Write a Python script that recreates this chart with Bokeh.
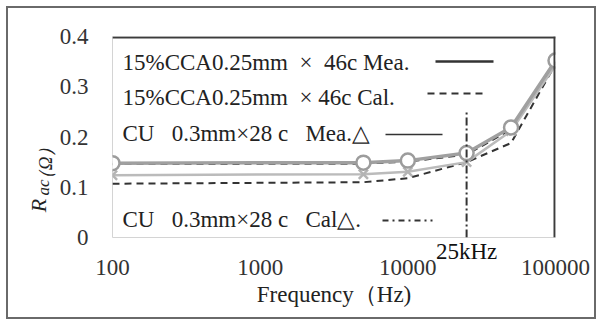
import math
from bokeh.plotting import figure
from bokeh.models import Range1d, Span, Label, FixedTicker, CustomJSTickFormatter
from bokeh.embed import file_html
from bokeh.resources import INLINE

# ---------------- data ----------------
freq = [100, 5000, 10000, 25000, 50000, 100000]
cca_mea = [0.148, 0.149, 0.153, 0.168, 0.219, 0.352]
cca_cal = [0.146, 0.147, 0.151, 0.165, 0.215, 0.349]
cu_mea = [0.124, 0.126, 0.131, 0.150, 0.212, 0.343]
cu_cal = [0.107, 0.110, 0.118, 0.150, 0.188, 0.345]
x_ticks = [100, 1000, 10000, 100000]
y_ticks = [0, 0.1, 0.2, 0.3, 0.4]
marker_freq = 25000
marker_label = "25kHz"
NB = "\u00a0"
legend_texts = [
    "15%CCA0.25mm" + NB * 2 + "\u00d7" + NB * 2 + "46c Mea.",
    "15%CCA0.25mm" + NB * 2 + "\u00d7 46c Cal.",
    "CU" + NB * 3 + "0.3mm\u00d728 c" + NB * 3 + "Mea.\u25b3",
    "CU" + NB * 3 + "0.3mm\u00d728 c" + NB * 3 + "Cal\u25b3.",
]
x_title = "Frequency\uff08Hz)"
y_title_parts = ["R", "ac", "\uff08\u03a9\uff09"]

# ---------------- layout ----------------
W, H = 602, 325
L, R, T, B = 112, 47, 36, 88  # frame borders in page pixels
FW, FH = W - L - R, H - T - B
XMIN, XMAX, YMIN, YMAX = 100, 100000, 0.0, 0.4
SERIF = "Liberation Serif"
INK = "#222222"


def px2x(px):
    return 10 ** (math.log10(XMIN) + (px - L) / FW * (math.log10(XMAX) - math.log10(XMIN)))


def py2y(py):
    return YMIN + (T + FH - py) / FH * (YMAX - YMIN)


p = figure(width=W, height=H, x_axis_type="log", output_backend="svg",
           toolbar_location=None, x_range=Range1d(XMIN, XMAX), y_range=Range1d(YMIN, YMAX),
           min_border_left=L, min_border_right=R, min_border_top=T, min_border_bottom=B)
p.styles = {"outline": "2px solid #6a6a6a", "outline-offset": "-8px",
            "background-color": "white"}
p.background_fill_color = "white"
p.border_fill_color = None
p.outline_line_color = "#d4d4d4"
p.xgrid.grid_line_color = None
p.ygrid.grid_line_color = None

for ax in (p.xaxis[0], p.yaxis[0]):
    ax.axis_line_color = None
    ax.major_tick_line_color = None
    ax.minor_tick_line_color = None
    ax.major_tick_out = 0
    ax.major_tick_in = 0
    ax.minor_tick_out = 0
    ax.minor_tick_in = 0
    ax.major_label_text_font = SERIF
    ax.major_label_text_font_size = "23px"
    ax.major_label_text_color = "#333333"

p.xaxis.ticker = FixedTicker(ticks=x_ticks)
p.xaxis.formatter = CustomJSTickFormatter(code="return Math.round(tick).toString();")
p.xaxis.major_label_standoff = 22
p.xaxis.axis_label = x_title
p.xaxis.axis_label_text_font = SERIF
p.xaxis.axis_label_text_font_style = "normal"
p.xaxis.axis_label_text_font_size = "23px"
p.xaxis.axis_label_text_color = INK
p.xaxis.axis_label_standoff = 4

p.yaxis.ticker = FixedTicker(ticks=y_ticks)
p.yaxis.formatter = CustomJSTickFormatter(code="return tick == 0 ? '0' : tick.toFixed(1);")
p.yaxis.major_label_standoff = 24

# frame top/right lines (just inside the frame edge)
p.add_layout(Span(location=py2y(T + 1), dimension="width", line_color="#3c3c3c", line_width=2))
p.add_layout(Span(location=px2x(L + FW - 1), dimension="height", line_color="#3c3c3c", line_width=2))

# calculated (dashed) lines underneath
p.line(freq, cca_cal, line_color="#333333", line_width=2, line_dash="7 5")
p.line(freq, cu_cal, line_color="#333333", line_width=2, line_dash="7 5")

# measured lines
p.line(freq, cu_mea, line_color="#bbbbbb", line_width=2.5)
p.scatter(freq, cu_mea, marker="x", size=13, line_color="#b4b4b4", line_width=2.5)
p.line(freq, cca_mea, line_color="#a0a0a0", line_width=3.5)
p.scatter(freq, cca_mea, marker="circle", size=14, line_color="#9c9c9c", line_width=2.5,
          fill_color="white")

# 25 kHz marker (label kept in the roomy top panel, positioned in data units)
p.segment(x0=[marker_freq], y0=[0.0], x1=[marker_freq], y1=[py2y(110)],
          line_color="#333333", line_width=2, line_dash="8 3 2 3")
p.add_layout(Label(x=marker_freq, y=py2y(251), text=marker_label, text_font=SERIF,
                   text_font_size="23px", text_color="#111111", text_align="center",
                   text_baseline="middle"), "above")

# legend (text + key lines)
rows_y = [62, 97, 133, 219]
for txt, ry in zip(legend_texts, rows_y):
    p.add_layout(Label(x=px2x(122), y=py2y(ry), text=txt, text_font=SERIF,
                       text_font_size="23px", text_color=INK, text_baseline="middle"))
keys = [((435, 493), 61, None, 2.5), ((427, 484), 93, "7 5", 2),
        ((385, 442), 134, None, 1.5), ((382, 432), 220, "6 4 2 4", 2)]
for (xa, xb), ky, dash, lw in keys:
    kw = dict(line_color="#333333", line_width=lw)
    if dash:
        kw["line_dash"] = dash
    p.segment(x0=[px2x(xa)], y0=[py2y(ky)], x1=[px2x(xb)], y1=[py2y(ky)], **kw)

# y-axis title R_ac (Ω): rotated labels in side panels, positioned in data units
title_px = [38, 43, 45]
title_py = [205, 187, 163]
title_fs = ["22px", "17px", "19px"]
title_side = ["left", "left", "right"]
for txt, tx, ty, fs, side in zip(y_title_parts, title_px, title_py, title_fs, title_side):
    p.add_layout(Label(x=px2x(tx), y=py2y(ty), text=txt, angle=math.pi / 2,
                       text_font=SERIF, text_font_style="italic", text_font_size=fs,
                       text_color=INK, text_align="center", text_baseline="middle"), side)

open("out.html", "w").write(file_html(p, INLINE))
